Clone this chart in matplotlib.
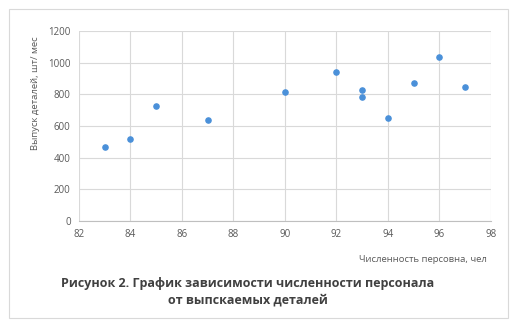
import matplotlib.pyplot as plt
from matplotlib.patches import Rectangle

staff = [83, 84, 85, 87, 90, 92, 93, 93, 94, 95, 96, 97]
output = [465, 516, 724, 636, 813, 939, 825, 781, 649, 870, 1034, 845]

plt.rcParams['font.family'] = ['Open Sans', 'DejaVu Sans']

fig = plt.figure(figsize=(5.14, 3.27), dpi=100)
ax = fig.add_axes([0.1537, 0.3242, 0.8015, 0.5808])

ax.scatter(staff, output, s=14, color='#4a90d9', zorder=3)

ax.set_xlim(82, 98)
ax.set_ylim(0, 1200)
ax.set_xticks(range(82, 99, 2))
ax.set_yticks(range(0, 1201, 200))
ax.grid(True, color='#d9d9d9', linewidth=0.8)
ax.set_axisbelow(True)
for side in ['top', 'right', 'left']:
    ax.spines[side].set_visible(False)
ax.spines['bottom'].set_color('#bfbfbf')
ax.tick_params(length=0, labelsize=7, colors='#595959', pad=6)

fig.text(35 / 514, 1 - 93 / 327, 'Выпуск деталей, шт/ мес', fontsize=6.8,
         color='#595959', rotation=90, ha='center', va='center')
fig.text(487 / 514, 1 - 259 / 327, 'Численность персовна, чел', fontsize=6.8,
         color='#595959', ha='right', va='center')

fig.text(248 / 514, 1 - 283 / 327, 'Рисунок 2. График зависимости численности персонала',
         fontsize=9, fontweight='bold', color='#404040', ha='center', va='center')
fig.text(248 / 514, 1 - 300 / 327, 'от выпскаемых деталей',
         fontsize=9, fontweight='bold', color='#404040', ha='center', va='center')

fig.patches.append(Rectangle((9 / 514, 1 - 318 / 327), 499 / 514, 309 / 327,
                             transform=fig.transFigure, fill=False,
                             edgecolor='#d9d9d9', linewidth=0.8))

fig.savefig('out.png', dpi=100)
